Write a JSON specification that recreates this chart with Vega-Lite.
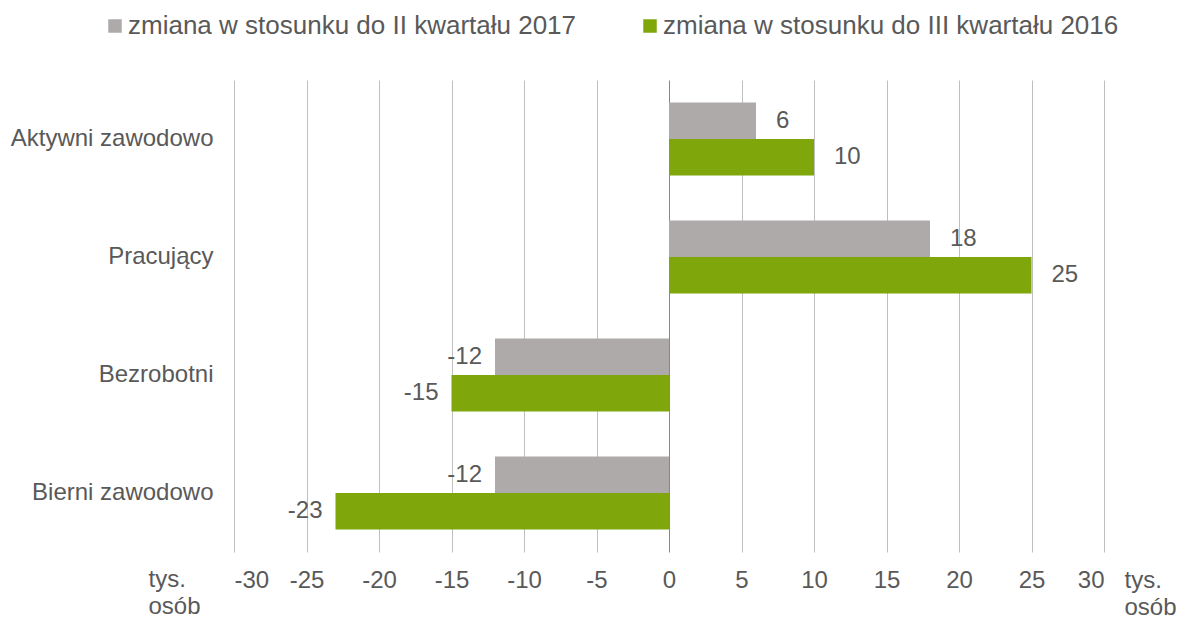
{
  "$schema": "https://vega.github.io/schema/vega-lite/v6.json",
  "width": 870,
  "height": 472,
  "autosize": "none",
  "padding": {"left": 234, "top": 80, "right": 81, "bottom": 70},
  "background": "white",
  "config": {
    "view": {"stroke": null},
    "font": "Liberation Sans",
    "axis": {"labelFont": "Liberation Sans", "titleFont": "Liberation Sans"},
    "legend": {"labelFont": "Liberation Sans"}
  },
  "data": {
    "values": [
      {"kategoria": "Aktywni zawodowo", "seria": "zmiana w stosunku do II kwartału 2017", "wartosc": 6},
      {"kategoria": "Aktywni zawodowo", "seria": "zmiana w stosunku do III kwartału 2016", "wartosc": 10},
      {"kategoria": "Pracujący", "seria": "zmiana w stosunku do II kwartału 2017", "wartosc": 18},
      {"kategoria": "Pracujący", "seria": "zmiana w stosunku do III kwartału 2016", "wartosc": 25},
      {"kategoria": "Bezrobotni", "seria": "zmiana w stosunku do II kwartału 2017", "wartosc": -12},
      {"kategoria": "Bezrobotni", "seria": "zmiana w stosunku do III kwartału 2016", "wartosc": -15},
      {"kategoria": "Bierni zawodowo", "seria": "zmiana w stosunku do II kwartału 2017", "wartosc": -12},
      {"kategoria": "Bierni zawodowo", "seria": "zmiana w stosunku do III kwartału 2016", "wartosc": -23}
    ]
  },
  "encoding": {
    "y": {
      "field": "kategoria",
      "type": "nominal",
      "sort": ["Aktywni zawodowo", "Pracujący", "Bezrobotni", "Bierni zawodowo"],
      "scale": {"paddingInner": 0.38, "paddingOuter": 0.19},
      "axis": {
        "labelFontSize": 24,
        "labelColor": "#595959",
        "labelPadding": 21,
        "labelLimit": 0,
        "ticks": false,
        "domain": false,
        "grid": false,
        "title": ["tys.", "osób"],
        "titleAngle": 0,
        "titleX": -86,
        "titleY": 487,
        "titleAlign": "left",
        "titleBaseline": "top",
        "titleFontSize": 24,
        "titleFontWeight": "normal",
        "titleColor": "#595959",
        "titleLineHeight": 27
      }
    },
    "yOffset": {
      "field": "seria",
      "type": "nominal",
      "sort": ["zmiana w stosunku do II kwartału 2017", "zmiana w stosunku do III kwartału 2016"],
      "scale": {"paddingInner": 0, "paddingOuter": 0}
    },
    "x": {
      "field": "wartosc",
      "type": "quantitative",
      "scale": {"domain": [-30, 30], "nice": false},
      "axis": {
        "values": [-30, -25, -20, -15, -10, -5, 0, 5, 10, 15, 20, 25, 30],
        "labelExpr": "toString(datum.value)",
        "labelFontSize": 24,
        "labelColor": "#595959",
        "labelPadding": 16,
        "ticks": false,
        "domain": false,
        "grid": true,
        "gridColor": {"condition": {"test": "datum.value === 0", "value": "#868686"}, "value": "#BFBFBF"},
        "title": ["tys.", "osób"],
        "titleX": 890,
        "titleY": 16,
        "titleAlign": "left",
        "titleBaseline": "top",
        "titleFontSize": 24,
        "titleFontWeight": "normal",
        "titleColor": "#595959",
        "titleLineHeight": 27
      }
    }
  },
  "layer": [
    {
      "mark": {"type": "bar"},
      "encoding": {
        "color": {
          "field": "seria",
          "type": "nominal",
          "scale": {
            "domain": ["zmiana w stosunku do II kwartału 2017", "zmiana w stosunku do III kwartału 2016"],
            "range": ["#AEAAAA", "#7FA60A"]
          },
          "legend": {
            "orient": "none",
            "legendX": -132,
            "legendY": -67,
            "direction": "horizontal",
            "title": null,
            "padding": 0,
            "symbolType": "square",
            "symbolSize": 182,
            "symbolStrokeWidth": 0,
            "labelFontSize": 26,
            "labelColor": "#595959",
            "labelLimit": 0,
            "labelOffset": 0,
            "columnPadding": 60
          }
        }
      }
    },
    {
      "transform": [{"filter": "datum.wartosc > 0"}],
      "mark": {"type": "text", "align": "left", "baseline": "middle", "dx": 20, "fontSize": 24, "color": "#595959", "font": "Liberation Sans"},
      "encoding": {"text": {"field": "wartosc", "type": "nominal"}}
    },
    {
      "transform": [{"filter": "datum.wartosc < 0"}],
      "mark": {"type": "text", "align": "right", "baseline": "middle", "dx": -13, "fontSize": 24, "color": "#595959", "font": "Liberation Sans"},
      "encoding": {"text": {"field": "wartosc", "type": "nominal"}}
    }
  ]
}
